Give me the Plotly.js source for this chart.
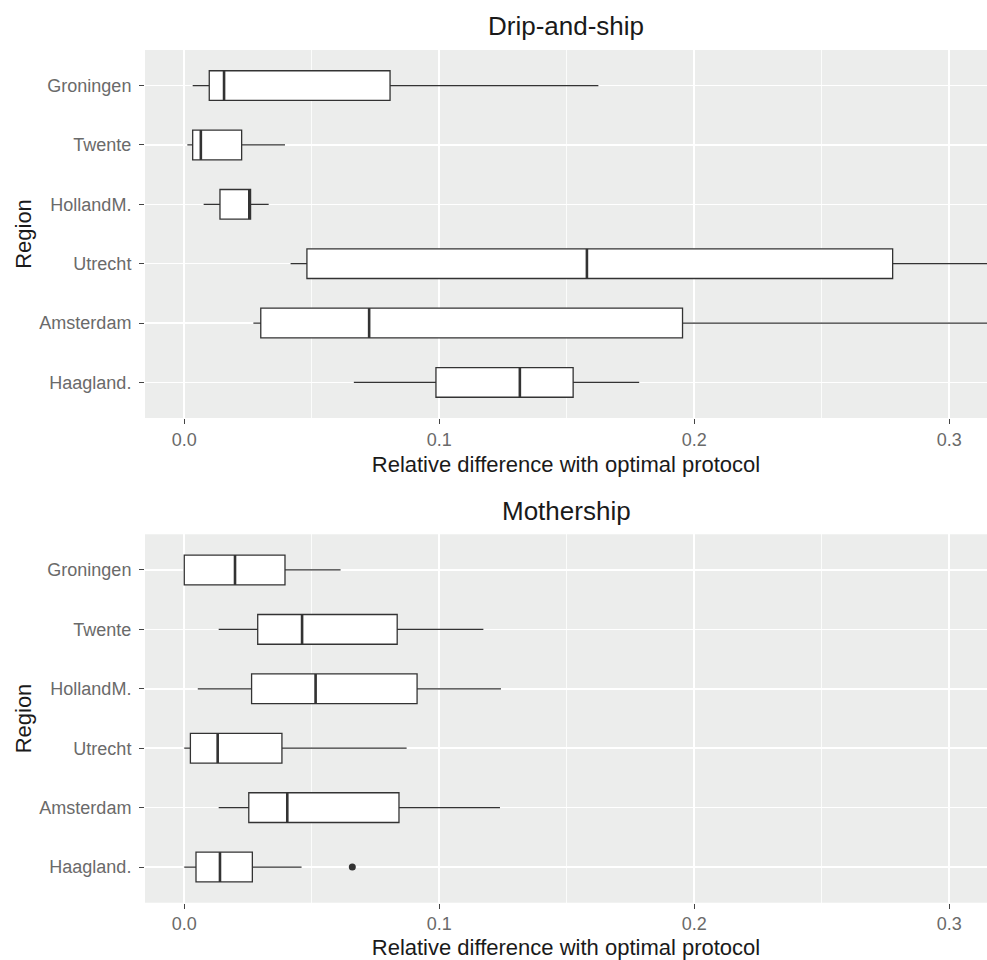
<!DOCTYPE html>
<html>
<head>
<meta charset="utf-8">
<script src="https://cdn.plot.ly/plotly-3.0.1.min.js"></script>
<style>html,body{margin:0;padding:0;background:#fff;}#chart{width:987px;height:960px;}</style>
</head>
<body>
<div id="chart"></div>
<script>
// Categories (top to bottom as shown)
const regions = ['Groningen', 'Twente', 'HollandM.', 'Utrecht', 'Amsterdam', 'Haagland.'];

// Drip-and-ship box statistics
const dsLow  = [0.0033, 0.0012, 0.0076, 0.0417, 0.0271, 0.0665];
const dsQ1   = [0.0098, 0.0033, 0.0140, 0.0481, 0.0300, 0.0987];
const dsMed  = [0.0156, 0.0065, 0.0255, 0.1579, 0.0725, 0.1316];
const dsQ3   = [0.0807, 0.0225, 0.0260, 0.2778, 0.1954, 0.1525];
const dsHigh = [0.1624, 0.0395, 0.0331, 0.3300, 0.3300, 0.1784];

// Mothership box statistics
const msLow  = [0.0000, 0.0135, 0.0053, 0.0000, 0.0135, 0.0000];
const msQ1   = [0.0000, 0.0288, 0.0264, 0.0024, 0.0253, 0.0046];
const msMed  = [0.0199, 0.0462, 0.0515, 0.0131, 0.0404, 0.0140];
const msQ3   = [0.0395, 0.0835, 0.0913, 0.0383, 0.0842, 0.0267];
const msHigh = [0.0613, 0.1173, 0.1242, 0.0872, 0.1238, 0.0460];

// Outliers (Mothership)
const msOutRegion = ['Haagland.'];
const msOutValue  = [0.0659];

const xTickVals = [0.0, 0.1, 0.2, 0.3];
const xTickText = ['0.0', '0.1', '0.2', '0.3'];

const titleTop = 'Drip-and-ship';
const titleBottom = 'Mothership';
const xTitle = 'Relative difference with optimal protocol';
const yTitle = 'Region';

const catOrder = regions.slice().reverse(); // bottom-to-top
const lineCol = '#333333';
const boxW = 0.5;

function boxTrace(low, q1, med, q3, high, xa, ya) {
  return {
    type: 'box', orientation: 'h',
    y: regions, q1: q1, median: med, q3: q3,
    lowerfence: low, upperfence: high,
    width: boxW, whiskerwidth: 0,
    fillcolor: '#ffffff',
    line: {color: lineCol, width: 1.3},
    boxpoints: false, hoverinfo: 'skip',
    xaxis: xa, yaxis: ya, showlegend: false
  };
}

const traces = [
  boxTrace(dsLow, dsQ1, dsMed, dsQ3, dsHigh, 'x', 'y'),
  boxTrace(msLow, msQ1, msMed, msQ3, msHigh, 'x2', 'y2'),
  {
    type: 'scatter', mode: 'markers', x: msOutValue, y: msOutRegion,
    marker: {color: '#333333', size: 7}, xaxis: 'x2', yaxis: 'y2',
    showlegend: false, hoverinfo: 'skip'
  }
];

// thicker median segments (ggplot style)
const shapes = [];
function addMedians(med, xref, yref) {
  regions.forEach((r, i) => {
    const idx = catOrder.indexOf(r);
    shapes.push({type: 'line', xref: xref, yref: yref,
      x0: med[i], x1: med[i], y0: idx - boxW / 2, y1: idx + boxW / 2,
      line: {color: lineCol, width: 2.6}});
  });
}
addMedians(dsMed, 'x', 'y');
addMedians(msMed, 'x2', 'y2');

const xRange = [-0.0154, 0.3148];
const tickFont = {family: 'Liberation Sans, Arial, sans-serif', size: 18, color: '#6a6a6a'};
const titleFont = {family: 'Liberation Sans, Arial, sans-serif', size: 22, color: '#1a1a1a'};

function xAxis(anchor) {
  return {
    anchor: anchor, domain: [0, 1], range: xRange,
    tickmode: 'array', tickvals: xTickVals, ticktext: xTickText,
    showgrid: true, gridcolor: '#ffffff', gridwidth: 1.6,
    minor: {tickmode: 'array', tickvals: [0.05, 0.15, 0.25], showgrid: true, gridcolor: '#ffffff', gridwidth: 0.8, ticks: ''},
    zeroline: false, showline: false,
    ticks: 'outside', ticklen: 5, tickcolor: '#444444', tickwidth: 1,
    tickfont: tickFont,
    title: {text: xTitle, font: titleFont, standoff: 8},
    automargin: false, fixedrange: true
  };
}
function yAxis(anchor, domain) {
  return {
    anchor: anchor, domain: domain, type: 'category',
    categoryorder: 'array', categoryarray: catOrder,
    range: [-0.6, 5.6],
    showgrid: true, gridcolor: '#ffffff', gridwidth: 1.6,
    zeroline: false, showline: false,
    ticks: 'outside', ticklen: 5, tickcolor: '#444444', tickwidth: 1,
    ticklabelstandoff: 4,
    tickfont: tickFont,
    title: {text: yTitle, font: titleFont, standoff: 1},
    automargin: false, fixedrange: true
  };
}

const layout = {
  width: 987, height: 960,
  margin: {l: 145, r: 0, t: 0, b: 0},
  paper_bgcolor: '#ffffff', plot_bgcolor: '#ecedec',
  font: {family: 'Liberation Sans, Arial, sans-serif'},
  xaxis: xAxis('y'),
  yaxis: yAxis('x', [1 - 418 / 960, 1 - 50 / 960]),
  xaxis2: xAxis('y2'),
  yaxis2: yAxis('x2', [1 - 902.7 / 960, 1 - 534.3 / 960]),
  shapes: shapes,
  annotations: [
    {text: titleTop, xref: 'paper', yref: 'paper', x: 0.5, y: 1 - 26 / 960,
     xanchor: 'center', yanchor: 'middle', showarrow: false,
     font: {family: 'Liberation Sans, Arial, sans-serif', size: 26, color: '#1a1a1a'}},
    {text: titleBottom, xref: 'paper', yref: 'paper', x: 0.5, y: 1 - 511 / 960,
     xanchor: 'center', yanchor: 'middle', showarrow: false,
     font: {family: 'Liberation Sans, Arial, sans-serif', size: 26, color: '#1a1a1a'}}
  ],
  showlegend: false
};

Plotly.newPlot('chart', traces, layout, {displayModeBar: false, staticPlot: true});
</script>
</body>
</html>
